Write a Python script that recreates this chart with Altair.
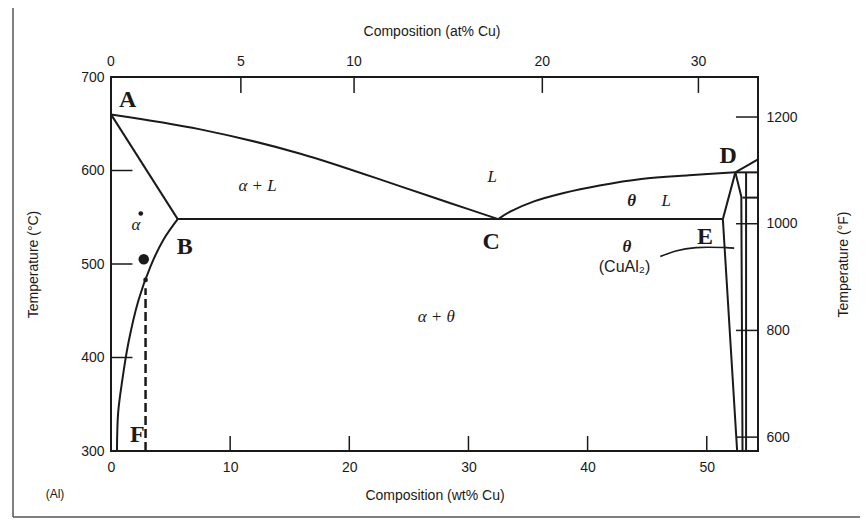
import altair as alt
import pandas as pd

# ---------------- axis values ----------------
wt_labels = [0, 10, 20, 30, 40, 50]            # bottom axis (wt % Cu)
wt_inner_ticks = [10, 20, 30, 40, 50]
degC_labels = [300, 400, 500, 600, 700]        # left axis (deg C)
degC_inner_ticks = [400, 500, 600]
at_labels = ["0", "5", "10", "20", "30"]       # top axis (at % Cu)
at_pos_wt = [0.0, 10.9, 20.4, 36.2, 49.3]      # where they sit on the wt scale
degF_labels = [600, 800, 1000, 1200]           # right axis (deg F)
degF_domain = [574, 1275]

# ---------------- phase boundaries (wt % Cu, deg C) ----------------
liqAC_wt = [0, 7.5, 15.9, 24.3, 28.5, 32.5]
liqAC_T = [660, 644, 618, 583, 565, 548]
liqCD_wt = [32.5, 33.5, 35.5, 38.0, 41.0, 44.5, 48.5, 52.4]
liqCD_T = [548, 556, 567, 576, 584, 591, 595, 598]
solAB_wt = [0, 5.6]
solAB_T = [660, 548]
solvus_wt = [5.6, 4.4, 3.3, 2.3, 1.45, 0.95, 0.6, 0.5]
solvus_T = [548, 526, 497, 461, 415, 376, 341, 300]
eut_wt = [5.6, 51.35]
eut_T = [548, 548]
thL_wt = [52.4, 51.35, 52.55]
thL_T = [598, 548, 300]
thR_wt = [52.4, 52.9, 53.0]
thR_T = [598, 572, 300]
vline_wt = [53.3, 53.3]
vline_T = [598, 300]
liqR_wt = [52.4, 54.3]
liqR_T = [598, 612]
hD_wt = [52.4, 54.3]
hD_T = [598, 598]
h570_wt = [53.0, 54.3]
h570_T = [571, 571]
leader_wt = [46.1, 47.4, 49.1, 51.6, 52.3]
leader_T = [508, 514, 517.5, 517.5, 517]
dash_wt = [2.9, 2.9]
dash_T = [300, 474]

# ---------------- annotations ----------------
letters = ["A", "B", "C", "D", "E", "F"]
letters_wt = [1.4, 6.2, 31.9, 51.8, 49.85, 2.2]
letters_T = [675, 518, 523, 616, 529, 317]
phase_txt = ["α + L", "L", "α + θ", "L", "α"]
phase_wt = [12.3, 32.0, 27.3, 46.6, 2.1]
phase_T = [583, 593, 443, 567, 542]
theta_wt = [43.7, 43.3]
theta_T = [567, 518]
cual_txt = ["(CuAl₂)"]
cual_wt = [43.1]
cual_T = [497]
dot_wt = [2.75, 2.5, 2.9]
dot_T = [505, 554, 483]
dot_sz = [110, 22, 22]

INK = "#1a1a1a"
SANS = "Liberation Sans"
SERIF = "Liberation Serif"
W, H = 647, 374

xs = alt.Scale(domain=[0, 54.3], nice=False, zero=False)
ys = alt.Scale(domain=[300, 700], nice=False, zero=False)

x_axis = alt.Axis(values=wt_labels, tickSize=0, domain=False, grid=False,
                  labelPadding=9, labelFont=SANS, labelFontSize=14, labelColor=INK,
                  labelFlush=False, labelOverlap=False,
                  title="Composition (wt% Cu)", titleFont=SANS, titleFontSize=14,
                  titleFontWeight="normal", titleColor=INK, titleY=44, titleBaseline="middle")
y_axis = alt.Axis(values=degC_labels, tickSize=0, domain=False, grid=False,
                  labelPadding=7, labelFont=SANS, labelFontSize=14, labelColor=INK,
                  labelOverlap=False,
                  title="Temperature (°C)", titleFont=SANS, titleFontSize=14,
                  titleFontWeight="normal", titleColor=INK, titleX=-78, titleY=187,
                  titleAngle=270, titleAlign="center", titleBaseline="middle")
f_axis = alt.Axis(orient="right", values=degF_labels, format="d", tickSize=0, domain=False,
                  grid=False, labelPadding=8, labelFont=SANS, labelFontSize=14, labelColor=INK,
                  labelOverlap=False,
                  title="Temperature (°F)", titleFont=SANS, titleFontSize=14,
                  titleFontWeight="normal", titleColor=INK, titleX=85, titleY=187,
                  titleAngle=270, titleAlign="center", titleBaseline="middle")

X = alt.X("wt:Q", scale=xs, axis=x_axis)
Y = alt.Y("T:Q", scale=ys, axis=y_axis)


def seg(name, wts, ts):
    return pd.DataFrame({"wt": wts, "T": ts, "seg": name, "o": list(range(len(wts)))})


curves_df = pd.concat([
    seg("liqAC", liqAC_wt, liqAC_T), seg("liqCD", liqCD_wt, liqCD_T),
    seg("solvus", solvus_wt, solvus_T),
])
straight_df = pd.concat([
    seg("solAB", solAB_wt, solAB_T),
    seg("eut", eut_wt, eut_T), seg("thL", thL_wt, thL_T), seg("thR", thR_wt, thR_T),
    seg("vline", vline_wt, vline_T), seg("liqR", liqR_wt, liqR_T),
    seg("hD", hD_wt, hD_T), seg("h570", h570_wt, h570_T),
])
curves = alt.Chart(curves_df).mark_line(color=INK, strokeWidth=2, interpolate="catmull-rom").encode(
    x=X, y=Y, detail="seg:N", order="o:Q")
lines = alt.Chart(straight_df).mark_line(color=INK, strokeWidth=2).encode(
    x=X, y=Y, detail="seg:N", order="o:Q")

leader = alt.Chart(seg("leader", leader_wt, leader_T)).mark_line(
    color=INK, strokeWidth=1.6, interpolate="catmull-rom").encode(x=X, y=Y, order="o:Q")

dashed = alt.Chart(seg("dash", dash_wt, dash_T)).mark_line(
    color=INK, strokeWidth=2.5, strokeDash=[9, 4]).encode(x=X, y=Y, order="o:Q")

# inward ticks
tick_rows = []
for v in wt_inner_ticks:
    tick_rows.append({"wt": v, "wt2": v, "T": 300, "T2": 316})
for v in at_pos_wt[1:]:
    tick_rows.append({"wt": v, "wt2": v, "T": 700, "T2": 683})
for v in degC_inner_ticks:
    tick_rows.append({"wt": 0, "wt2": 1.8, "T": v, "T2": v})
ticks = alt.Chart(pd.DataFrame(tick_rows)).mark_rule(color=INK, strokeWidth=1.5).encode(
    x=X, x2="wt2:Q", y=Y, y2="T2:Q")

top_labels = alt.Chart(pd.DataFrame({"wt": at_pos_wt, "T": [700] * len(at_pos_wt),
                                     "lab": at_labels})).mark_text(
    font=SANS, fontSize=14, color=INK, dy=-15, baseline="middle").encode(x=X, y=Y, text="lab:N")

dots = alt.Chart(pd.DataFrame({"wt": dot_wt, "T": dot_T, "s": dot_sz})).mark_circle(
    color=INK, opacity=1).encode(x=X, y=Y, size=alt.Size("s:Q", scale=None, legend=None))

letter_txt = alt.Chart(pd.DataFrame({"wt": letters_wt, "T": letters_T, "lab": letters})).mark_text(
    font=SERIF, fontSize=24, fontWeight="bold", color=INK, baseline="middle").encode(
    x=X, y=Y, text="lab:N")

phase_lbl = alt.Chart(pd.DataFrame({"wt": phase_wt, "T": phase_T, "lab": phase_txt})).mark_text(
    font=SERIF, fontSize=17, fontStyle="italic", color=INK, baseline="middle").encode(
    x=X, y=Y, text="lab:N")

theta_lbl = alt.Chart(pd.DataFrame({"wt": theta_wt, "T": theta_T, "lab": ["θ", "θ"]})).mark_text(
    font=SERIF, fontSize=17, fontStyle="italic", fontWeight="bold", color=INK,
    baseline="middle").encode(x=X, y=Y, text="lab:N")

cual_lbl = alt.Chart(pd.DataFrame({"wt": cual_wt, "T": cual_T, "lab": cual_txt})).mark_text(
    font=SANS, fontSize=16, color=INK, baseline="middle").encode(x=X, y=Y, text="lab:N")

# free text outside the plot
free_txt = alt.Chart(pd.DataFrame({"lab": ["Composition (at% Cu)", "(Al)"],
                                   "px": [321, -56], "py": [-45, 417],
                                   "fs": [14, 12]})).mark_text(
    font=SANS, color=INK, baseline="middle").encode(
    x=alt.X("px:Q", scale=None), y=alt.Y("py:Q", scale=None), text="lab:N",
    size=alt.Size("fs:Q", scale=None, legend=None))

# outer figure border
border = alt.Chart(pd.DataFrame({"bx": [-98, -98, -98], "bx2": [749, 749, -98],
                                 "by": [-70, 440, -70], "by2": [-70, 440, 440]})).mark_rule(
    color="#555555", strokeWidth=1.5).encode(
    x=alt.X("bx:Q", scale=None), x2="bx2:Q", y=alt.Y("by:Q", scale=None), y2="by2:Q")

celsius = alt.layer(border, curves, lines, leader, dashed, ticks, top_labels, dots,
                    letter_txt, phase_lbl, theta_lbl, cual_lbl, free_txt)

f_ticks = alt.Chart(pd.DataFrame({"wt": [52.45] * 4, "wt2": [54.3] * 4, "F": degF_labels})).mark_rule(
    color=INK, strokeWidth=1.5).encode(
    x=X, x2="wt2:Q",
    y=alt.Y("F:Q", scale=alt.Scale(domain=degF_domain, nice=False, zero=False), axis=f_axis))

chart = alt.layer(celsius, f_ticks).resolve_scale(y="independent").properties(
    width=W, height=H,
    autosize=alt.AutoSizeParams(type="none"),
    padding={"left": 103, "top": 69, "right": 102, "bottom": 68},
    background="white",
).configure_view(stroke=INK, strokeWidth=2)

chart.save("out.html", embed_options={"renderer": "svg", "actions": False})
